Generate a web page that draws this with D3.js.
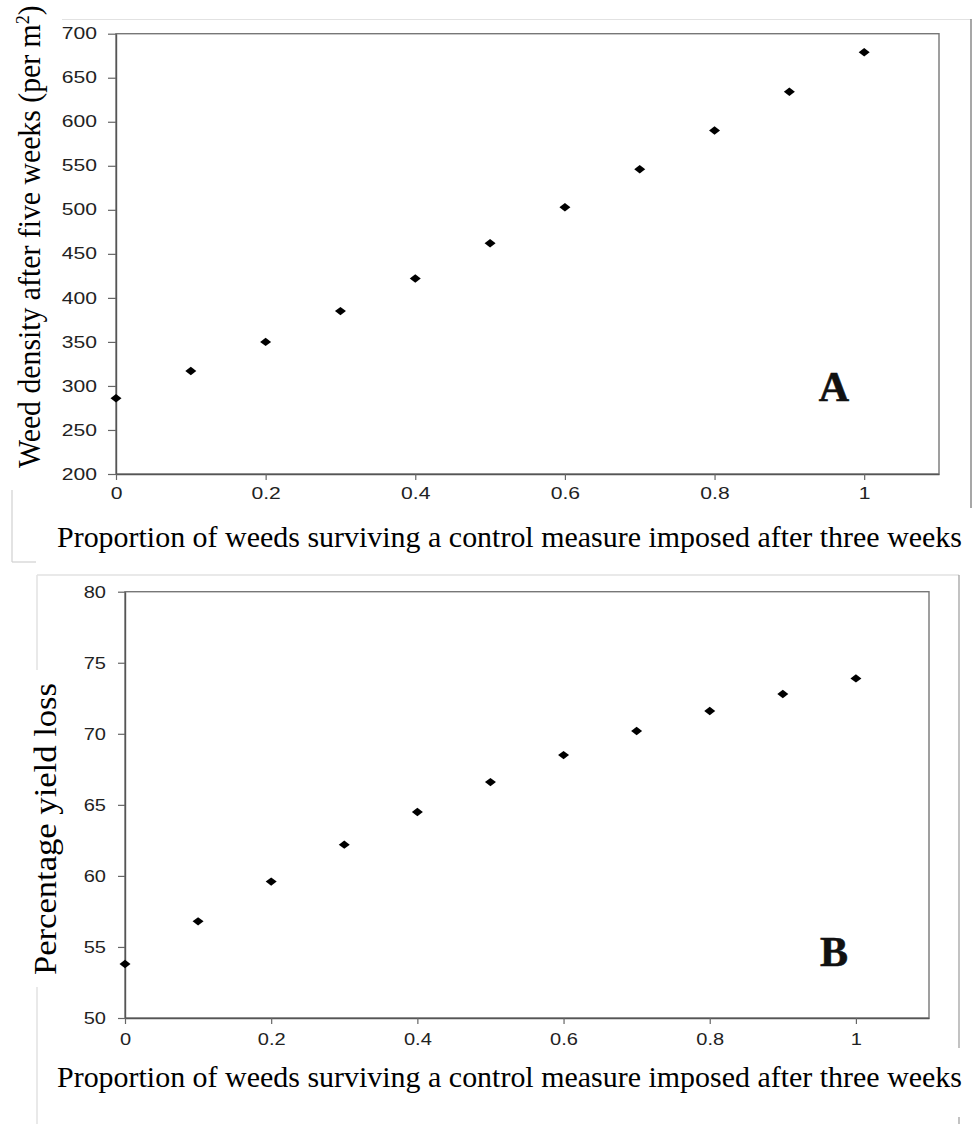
<!DOCTYPE html>
<html>
<head>
<meta charset="utf-8">
<script src="https://cdn.jsdelivr.net/npm/d3@7/dist/d3.min.js"></script>
<style>
  html, body { margin: 0; padding: 0; background: #fff; }
  svg { display: block; }
</style>
</head>
<body>
<svg id="chart" width="973" height="1124"></svg>
<script>
// ---- data ----
const propSurviving = [0, 0.1, 0.2, 0.3, 0.4, 0.5, 0.6, 0.7, 0.8, 0.9, 1.0];
const weedDensity = [286, 317, 350, 385, 422, 462, 503, 546, 590, 634, 679];
const yieldLoss = [53.8, 56.8, 59.6, 62.2, 64.5, 66.6, 68.5, 70.2, 71.6, 72.8, 73.9];
const xTicks = [0, 0.2, 0.4, 0.6, 0.8, 1];
const xTickLabels = ["0", "0.2", "0.4", "0.6", "0.8", "1"];
const yTicksA = [200, 250, 300, 350, 400, 450, 500, 550, 600, 650, 700];
const yTicksB = [50, 55, 60, 65, 70, 75, 80];
const xTitle = "Proportion of weeds surviving a control measure imposed after three weeks";
const yTitleA = "Weed density after five weeks (per m";
const yTitleB = "Percentage yield loss";

const svg = d3.select("#chart");

// faint frame artifacts from the composed figure
const art = svg.append("g");
function ln(x1, y1, x2, y2, c, w) {
  art.append("line").attr("x1", x1).attr("y1", y1).attr("x2", x2).attr("y2", y2)
    .attr("stroke", c).attr("stroke-width", w || 1);
}
ln(62, 19.5, 971, 19.5, "#e2e2e2", 1.2);
ln(971, 19, 971, 508, "#8a8a8a", 1.5);
ln(12, 490, 12, 562, "#d0d0d0", 1.2);
ln(12, 562, 36, 562, "#d0d0d0", 1.2);
ln(37, 575, 959, 575, "#e2e2e2", 1.5);
ln(37, 575, 37, 670, "#e2e2e2", 1.5);
ln(37, 987, 37, 1124, "#e2e2e2", 1.5);
ln(959, 575, 959, 1048, "#9a9a9a", 1.2);
ln(959, 1117, 959, 1124, "#9a9a9a", 1.2);

function drawPanel(cfg) {
  const g = svg.append("g");
  const x = d3.scaleLinear().domain([0, 1.1]).range([cfg.left, cfg.right]);
  const y = d3.scaleLinear().domain(cfg.yDomain).range([cfg.bottom, cfg.top]);

  // frame (top/right)
  g.append("rect").attr("x", cfg.left).attr("y", cfg.top)
    .attr("width", cfg.right - cfg.left).attr("height", cfg.bottom - cfg.top)
    .attr("fill", "none").attr("stroke", "#777").attr("stroke-width", 1.4);

  // y axis
  const ya = g.append("g").attr("transform", `translate(${cfg.left},0)`)
    .call(d3.axisLeft(y).tickValues(cfg.yTicks).tickSize(cfg.yTickSize).tickSizeOuter(0).tickPadding(cfg.yGap - cfg.yTickSize));
  // x axis
  const xa = g.append("g").attr("transform", `translate(0,${cfg.bottom})`)
    .call(d3.axisBottom(x).tickValues(xTicks).tickFormat((d, i) => xTickLabels[i])
      .tickSize(6).tickSizeOuter(0).tickPadding(cfg.xGap - 6));
  [ya, xa].forEach(a => {
    a.select(".domain").attr("stroke", "#555").attr("stroke-width", 1.4);
    a.selectAll(".tick line").attr("stroke", "#666").attr("stroke-width", 1.2);
    a.selectAll("text").attr("fill", "#222")
      .style("font-family", "'Liberation Sans', Arial, sans-serif")
      .style("font-size", cfg.tickFont + "px");
  });
  ya.selectAll("text").attr("x", -cfg.yGap / cfg.sx).attr("transform", `scale(${cfg.sx},1)`);
  xa.selectAll("text").attr("transform", `scale(${cfg.sx},1)`);

  // points (diamonds)
  g.append("g").selectAll("path").data(propSurviving).join("path")
    .attr("d", (d, i) => {
      const cx = x(d), cy = y(cfg.values[i]);
      return `M${cx - 5.5},${cy}L${cx},${cy - 4.2}L${cx + 5.5},${cy}L${cx},${cy + 4.2}Z`;
    })
    .attr("fill", "#000");

  // x title
  g.append("text").attr("x", 57).attr("y", cfg.xTitleY)
    .attr("textLength", 905).attr("lengthAdjust", "spacingAndGlyphs")
    .style("font-family", "'Liberation Serif', 'Times New Roman', serif")
    .style("font-size", "30px").attr("fill", "#000").text(xTitle);

  // panel letter
  g.append("text").attr("x", 834).attr("y", cfg.letterY).attr("text-anchor", "middle")
    .style("font-family", "'Liberation Serif', 'Times New Roman', serif")
    .style("font-size", "42px").style("font-weight", "bold")
    .attr("fill", "#111").attr("stroke", "#111").attr("stroke-width", 0.6)
    .text(cfg.letter);
  return g;
}

drawPanel({ left: 116, right: 939, top: 33.7, bottom: 474, yDomain: [200, 700], yTicks: yTicksA,
  values: weedDensity, yTickSize: 8, yGap: 19, xGap: 14, tickFont: 16, sx: 1.32,
  xTitleY: 547, letter: "A", letterY: 401 });
drawPanel({ left: 125, right: 929, top: 591.7, bottom: 1018, yDomain: [50, 80], yTicks: yTicksB,
  values: yieldLoss, yTickSize: 7, yGap: 19, xGap: 15, tickFont: 17, sx: 1.18,
  xTitleY: 1087, letter: "B", letterY: 966 });

// y titles
const serif = "'Liberation Serif', 'Times New Roman', serif";
const tA = svg.append("text").attr("transform", "translate(40,468) rotate(-90)")
  .style("font-family", serif).style("font-size", "31px").attr("fill", "#000");
tA.append("tspan").text(yTitleA);
tA.append("tspan").attr("dy", -11).style("font-size", "19px").text("2");
tA.append("tspan").attr("dy", 11).text(")");
const wA = tA.node().getBBox().width;
const targetA = 463;
tA.attr("transform", `translate(40,468) rotate(-90) scale(${targetA / wA},1)`);

svg.append("text").attr("transform", "translate(56,975) rotate(-90)")
  .attr("textLength", 292).attr("lengthAdjust", "spacingAndGlyphs")
  .style("font-family", serif).style("font-size", "31px").attr("fill", "#000")
  .text(yTitleB);
</script>
</body>
</html>
